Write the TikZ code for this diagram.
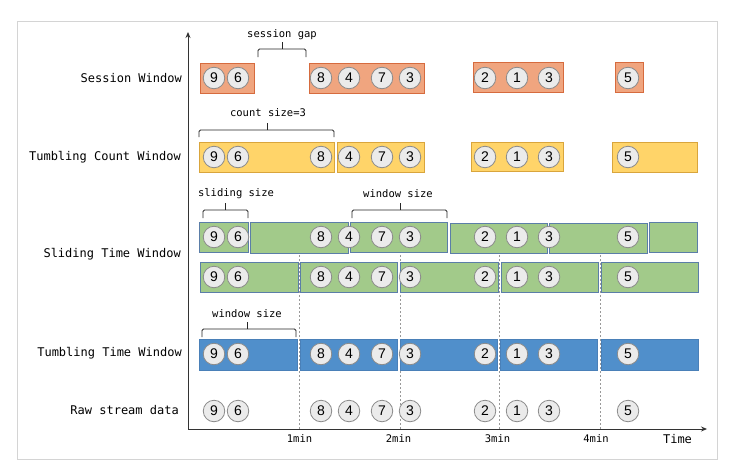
\documentclass[tikz,border=0pt]{standalone}
\usepackage{fontspec}
\setmainfont{DejaVu Sans Mono}
\newfontfamily\numfont{Liberation Sans}
\usetikzlibrary{arrows.meta}
\definecolor{sesfill}{HTML}{F0A57F}
\definecolor{sesline}{HTML}{D66B3E}
\definecolor{cntfill}{HTML}{FFD469}
\definecolor{cntline}{HTML}{D9A53C}
\definecolor{slifill}{HTML}{A2CA8A}
\definecolor{sliline}{HTML}{5B7EA8}
\definecolor{tumfill}{HTML}{508FCB}
\definecolor{tumline}{HTML}{4A80B8}
\definecolor{evfill}{HTML}{EBEBEB}
\definecolor{evline}{HTML}{8A8A8A}
\definecolor{framec}{HTML}{D4D4D4}
\definecolor{axisc}{HTML}{333333}
\newcommand\mybrace[5]{%
  \draw[brk] (#1,#4) -- (#1,#5) -- (#2,#5) -- (#2,#4);
  \draw[brk] (#3,#5) -- (#3,{#5-7});}
\begin{document}
\begin{tikzpicture}[x=1pt,y=-1pt,
  ev/.style={circle,draw=evline,fill=evfill,line width=0.8pt,minimum size=21.5pt,inner sep=0pt,font=\numfont\fontsize{14}{14}\selectfont},
  rowlabel/.style={anchor=east,font=\fontsize{12}{14}\selectfont,inner sep=0pt,text=black},
  small/.style={font=\fontsize{10.5}{12}\selectfont,inner sep=0pt,text=black},
  seswin/.style={draw=sesline,fill=sesfill,line width=0.8pt},
  cntwin/.style={draw=cntline,fill=cntfill,line width=0.8pt},
  sliwin/.style={draw=sliline,fill=slifill,line width=0.8pt},
  tumwin/.style={draw=tumline,fill=tumfill,line width=0.8pt},
  brk/.style={draw=black!85,line width=0.8pt,rounded corners=1.5pt},
  tick/.style={draw=black!40,line width=0.6pt,dash pattern=on 2pt off 2pt},
  axis/.style={draw=axisc,line width=0.9pt,-{Stealth[length=6pt,width=5pt]}}
]
\useasboundingbox (0,0) rectangle (751,471);
\fill[white] (0,0) rectangle (751,471);
\draw[framec,line width=0.8pt] (17,21) rectangle (717,459);

% dashed minute lines
\foreach \x in {299,400,499,600} \draw[tick] (\x,255) -- (\x,429);

% axes
\coordinate (O) at (188,429);
\coordinate (Ytop) at (188,32);
\coordinate (Xend) at (707,429);
\draw[axis] (O) -- (Ytop);
\draw[axis] (O) -- (Xend);

% row labels
\node[rowlabel] (lses) at (182,78) {Session Window};
\node[rowlabel] (lcnt) at (181,157) {Tumbling Count Window};
\node[rowlabel] (lsli) at (181,254) {Sliding Time Window};
\node[rowlabel] (ltum) at (182,353) {Tumbling Time Window};
\node[rowlabel] (lraw) at (179,410) {Raw stream data};

% time labels
\node[small] (t1) at (299.5,439) {1min};
\node[small] (t2) at (398.5,439) {2min};
\node[small] (t3) at (497.5,439) {3min};
\node[small] (t4) at (596,439) {4min};
\node[rowlabel,anchor=center] (tt) at (677.5,439) {Time};

% session windows
\draw[seswin] (200,63) rectangle (254,93);
\draw[seswin] (309,63) rectangle (424,93);
\draw[seswin] (473,62) rectangle (563,92);
\draw[seswin] (615,62) rectangle (643,92);
% count windows
\draw[cntwin] (199,142) rectangle (334,172);
\draw[cntwin] (337,142) rectangle (424,172);
\draw[cntwin] (471,142) rectangle (563,171);
\draw[cntwin] (612,142) rectangle (697,172);
% sliding windows
\draw[sliwin] (199,222) rectangle (248,252);
\draw[sliwin] (250,222) rectangle (348,253);
\draw[sliwin] (350,222) rectangle (447,252);
\draw[sliwin] (450,223) rectangle (547,253);
\draw[sliwin] (549,223) rectangle (647,253);
\draw[sliwin] (649,222) rectangle (697,252);
\draw[sliwin] (200,262) rectangle (298,292);
\draw[sliwin] (300,262) rectangle (397,292);
\draw[sliwin] (400,262) rectangle (498,292);
\draw[sliwin] (501,262) rectangle (598,292);
\draw[sliwin] (601,262) rectangle (698,292);
% tumbling time windows
\draw[tumwin] (199,339) rectangle (297,370);
\draw[tumwin] (300,339) rectangle (397,370);
\draw[tumwin] (400,339) rectangle (497,370);
\draw[tumwin] (500,339) rectangle (597,370);
\draw[tumwin] (601,339) rectangle (698,370);

% events
\foreach \r/\y in {s/78,c/157,a/237,b/277,t/354,r/411}{
  \foreach \x/\n [count=\i] in {214/9,238/6,321/8,349/4,382/7,410/3,485/2,517/1,549/3,628/5}{
    \node[ev] (\r\i) at (\x,\y) {\n};
  }
}

% braces and labels
\mybrace{258}{306}{282}{57}{49}
\node[small] (gap) at (282,35) {session gap};
\mybrace{199}{334}{267}{137}{130}
\node[small] (cnt) at (268,113) {count size=3};
\mybrace{203}{248}{225}{218}{210}
\node[small] (sls) at (236,194) {sliding size};
\mybrace{352}{447}{400}{218}{210}
\node[small] (ws1) at (398,194) {window size};
\mybrace{202}{296}{247}{337}{329}
\node[small] (ws2) at (247,314) {window size};
\end{tikzpicture}
\end{document}
